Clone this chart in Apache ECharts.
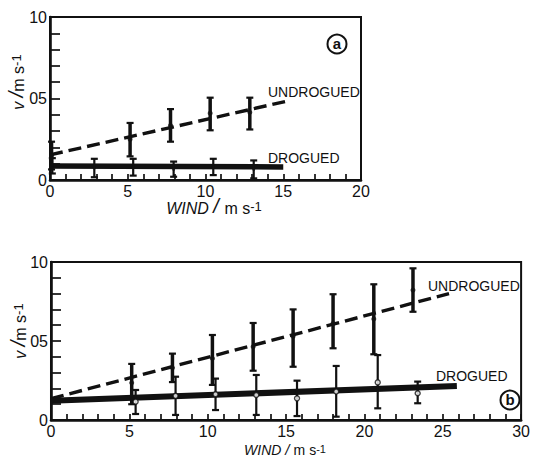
<!DOCTYPE html>
<html>
<head>
<meta charset="utf-8">
<script src="https://cdn.jsdelivr.net/npm/echarts@6/dist/echarts.min.js"></script>
<style>
  html, body { margin: 0; padding: 0; background: #fff; }
  #chart { width: 533px; height: 459px; }
</style>
</head>
<body>
<div id="chart"></div>
<script>
// ---- Panel (a): drift speed v (m/s) against wind speed (m/s) ----
const windA_undrogued = [0.1, 5.15, 7.75, 10.3, 12.85];
const speedA_undrogued = [0.15, 0.25, 0.335, 0.41, 0.415];
const lowA_undrogued = [0.065, 0.145, 0.235, 0.305, 0.31];
const highA_undrogued = [0.235, 0.35, 0.435, 0.505, 0.505];

const windA_drogued = [0.15, 2.85, 5.35, 7.95, 10.5, 13.1];
const speedA_drogued = [0.09, 0.073, 0.078, 0.065, 0.08, 0.065];
const lowA_drogued = [0.04, 0.017, 0.027, 0.02, 0.03, 0.01];
const highA_drogued = [0.134, 0.13, 0.13, 0.113, 0.13, 0.12];

const fitA_undrogued = [[0, 0.154], [15.2, 0.483]];
const fitA_drogued = [[0, 0.086], [15, 0.08]];

// ---- Panel (b) ----
const windB_undrogued = [5.15, 7.75, 10.3, 12.9, 15.45, 18.0, 20.6, 23.1];
const speedB_undrogued = [0.235, 0.33, 0.39, 0.464, 0.53, 0.612, 0.64, 0.822];
const lowB_undrogued = [0.1, 0.24, 0.222, 0.312, 0.337, 0.454, 0.416, 0.685];
const highB_undrogued = [0.355, 0.42, 0.538, 0.614, 0.70, 0.796, 0.859, 0.96];

const windB_drogued = [5.4, 7.95, 10.5, 13.1, 15.7, 18.2, 20.85, 23.4];
const speedB_drogued = [0.116, 0.153, 0.163, 0.158, 0.137, 0.18, 0.238, 0.169];
const lowB_drogued = [0.038, 0.032, 0.063, 0.032, 0.025, 0.021, 0.074, 0.106];
const highB_drogued = [0.19, 0.274, 0.262, 0.285, 0.249, 0.342, 0.411, 0.243];

const fitB_undrogued = [[0, 0.135], [25.4, 0.80]];
const fitB_drogued = [[0, 0.122], [25.9, 0.215]];

// ---- Tick labels ----
const xTickLabelsA = ['0', '5', '10', '15', '20'];
const xTickLabelsB = ['0', '5', '10', '15', '20', '25', '30'];
const yTickLabels = ['0', '05', '10'];

const FONT = '"Liberation Sans", Arial, sans-serif';
const INK = '#111';

const zip = (xs, ys) => xs.map((x, i) => [x, ys[i]]);

function xAxisFor(gridIndex, max, labels) {
  return {
    type: 'value', gridIndex, min: 0, max, interval: 1,
    axisLine: { show: true, onZero: false, lineStyle: { color: INK, width: 2.6 } },
    axisTick: { show: true, inside: true, length: 6, lineStyle: { color: INK, width: 1.7 } },
    splitLine: { show: false },
    axisLabel: {
      color: INK, fontFamily: FONT, fontSize: 16, lineHeight: 16, margin: 3,
      showMinLabel: true, showMaxLabel: true,
      formatter: v => (Math.abs(v % 5) < 1e-6 ? labels[Math.round(v / 5)] : '')
    }
  };
}

function yAxisFor(gridIndex) {
  return {
    type: 'value', gridIndex, min: 0, max: 1, interval: 0.1,
    axisLine: { show: true, onZero: false, lineStyle: { color: INK, width: 2.6 } },
    axisTick: { show: true, inside: true, length: 10, lineStyle: { color: INK, width: 1.7 } },
    splitLine: { show: false },
    axisLabel: {
      color: INK, fontFamily: FONT, fontSize: 16, margin: 3,
      showMinLabel: true, showMaxLabel: true,
      formatter: v => {
        const k = Math.round(v * 10);
        return k % 5 === 0 ? yTickLabels[k / 5] : '';
      }
    }
  };
}

function errorBars(axisIndex, xs, lows, highs, barWidth) {
  return {
    type: 'custom', xAxisIndex: axisIndex, yAxisIndex: axisIndex,
    data: xs.map((x, i) => [x, lows[i], highs[i]]),
    encode: { x: 0, y: [1, 2] },
    silent: true, z: 4,
    renderItem(params, api) {
      const lo = api.coord([api.value(0), api.value(1)]);
      const hi = api.coord([api.value(0), api.value(2)]);
      const half = 3.5;
      const st = { stroke: INK, lineWidth: barWidth };
      const cap = { stroke: INK, lineWidth: 2.2 };
      return {
        type: 'group',
        children: [
          { type: 'line', shape: { x1: hi[0], y1: hi[1], x2: lo[0], y2: lo[1] }, style: st },
          { type: 'line', shape: { x1: hi[0] - half, y1: hi[1], x2: hi[0] + half, y2: hi[1] }, style: cap },
          { type: 'line', shape: { x1: lo[0] - half, y1: lo[1], x2: lo[0] + half, y2: lo[1] }, style: cap }
        ]
      };
    }
  };
}

function fitLine(axisIndex, data, dashed, width) {
  return {
    type: 'line', xAxisIndex: axisIndex, yAxisIndex: axisIndex,
    data, showSymbol: false, silent: true, z: 3,
    lineStyle: { color: INK, width, type: dashed ? [13, 6] : 'solid', cap: 'butt' }
  };
}

function dots(axisIndex, xs, ys, open, size) {
  return {
    type: 'scatter', xAxisIndex: axisIndex, yAxisIndex: axisIndex,
    data: zip(xs, ys), symbol: 'circle', symbolSize: size, silent: true, z: 5,
    itemStyle: open
      ? { color: '#fff', borderColor: INK, borderWidth: 1.4 }
      : { color: INK }
  };
}

const chart = echarts.init(document.getElementById('chart'), null, { renderer: 'svg' });

const option = {
  backgroundColor: '#fff',
  animation: false,
  grid: [
    { left: 50, top: 17, width: 311, height: 163, show: true, borderColor: INK, borderWidth: 2, backgroundColor: 'transparent' },
    { left: 51, top: 262, width: 478, height: 158, show: true, borderColor: INK, borderWidth: 2, backgroundColor: 'transparent' }
  ],
  xAxis: [xAxisFor(0, 20, xTickLabelsA), xAxisFor(1, 30, xTickLabelsB)],
  yAxis: [yAxisFor(0), yAxisFor(1)],
  series: [
    fitLine(0, fitA_undrogued, true, 3.4),
    fitLine(0, fitA_drogued, false, 5.5),
    errorBars(0, windA_undrogued, lowA_undrogued, highA_undrogued, 3.5),
    errorBars(0, windA_drogued, lowA_drogued, highA_drogued, 2.2),
    dots(0, windA_undrogued, speedA_undrogued, false, 5),
    dots(0, windA_drogued, speedA_drogued, false, 3),

    fitLine(1, fitB_undrogued, true, 3.4),
    fitLine(1, fitB_drogued, false, 6),
    errorBars(1, windB_undrogued, lowB_undrogued, highB_undrogued, 3.5),
    errorBars(1, windB_drogued, lowB_drogued, highB_drogued, 2.2),
    dots(1, windB_undrogued, speedB_undrogued, false, 5),
    dots(1, windB_drogued, speedB_drogued, true, 5)
  ]
};
chart.setOption(option);

// Axis titles and annotations
const unitRich = (size, slashExtra) => ({
  it: { fontFamily: FONT, fontSize: size, lineHeight: size, fontStyle: 'italic', fill: INK, verticalAlign: 'bottom' },
  sl: { fontFamily: FONT, fontSize: size + slashExtra, lineHeight: size, fontStyle: 'italic', fill: INK, verticalAlign: 'bottom' },
  n: { fontFamily: FONT, fontSize: size, lineHeight: size, fill: INK, verticalAlign: 'bottom' },
  sup: { fontFamily: FONT, fontSize: size - 3, lineHeight: size, fill: INK, verticalAlign: 'top' }
});

function yTitle(x, y) {
  return {
    type: 'text', x, y, rotation: Math.PI / 2,
    style: {
      text: '{it|v }{sl|/}{n|m s}{sup|-1}',
      rich: unitRich(16, 4), align: 'center', verticalAlign: 'middle', fill: INK
    }
  };
}

function xTitle(x, y, size, slashExtra) {
  return {
    type: 'text', x, y,
    style: {
      text: '{it|WIND }{sl|/ }{n|m s}{sup|-1}',
      rich: unitRich(size, slashExtra), align: 'center', verticalAlign: 'middle', fill: INK
    }
  };
}

function note(text, x, y) {
  return {
    type: 'text', x, y,
    style: { text, fontFamily: FONT, fontSize: 14, fill: INK, align: 'left', verticalAlign: 'middle' }
  };
}

function circled(letter, cx, cy) {
  return {
    type: 'group', x: cx, y: cy,
    children: [
      { type: 'circle', shape: { cx: 0, cy: 0, r: 9.5 }, style: { fill: '#fff', stroke: INK, lineWidth: 2 } },
      { type: 'text', x: 0, y: -1, style: { text: letter, fontFamily: FONT, fontSize: 15, fontWeight: 'bold', fill: INK, align: 'center', verticalAlign: 'middle' } }
    ]
  };
}

chart.setOption({
  graphic: [
    yTitle(18, 82),
    yTitle(20, 331),
    xTitle(214, 208, 16, 4),
    xTitle(285, 450, 14, 1),
    note('UNDROGUED', 268, 92),
    note('DROGUED', 268, 158),
    note('UNDROGUED', 428, 286),
    note('DROGUED', 436, 376),
    circled('a', 337, 44),
    circled('b', 510, 400)
  ]
});
</script>
</body>
</html>
